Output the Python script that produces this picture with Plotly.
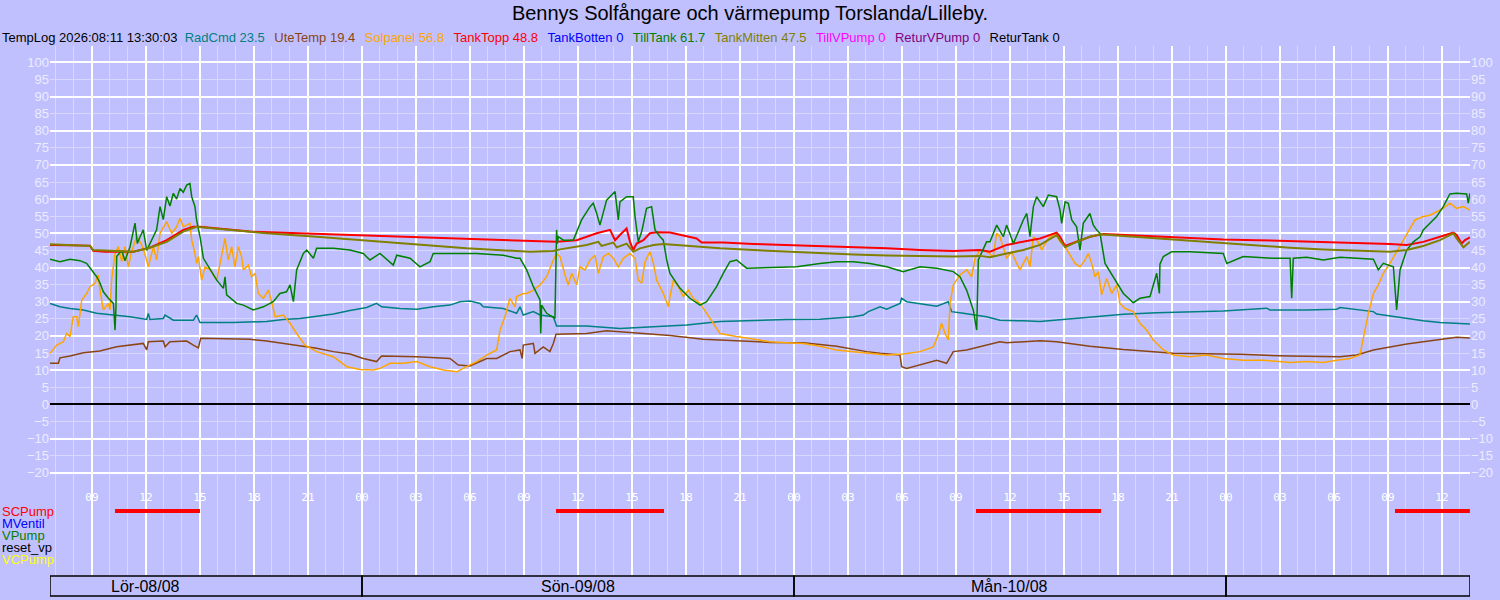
import pandas as pd
import plotly.graph_objects as go

BASE = pd.Timestamp("2026-08-08 00:00")
RANGE_H = [6.667, 85.556]  # hours after Sat 00:00

# ---- series: hours after Sat 00:00 / degrees ----
radcmd_h = [6.67, 7.22, 7.78, 8.52, 9.26, 10.28, 11.11, 12.04, 12.13, 12.22, 12.96, 13.06, 13.52, 14.63,
            14.81, 15.00, 16.85, 18.70, 19.63, 20.56, 21.48, 22.41, 23.33, 24.26, 24.81, 25.09, 26.11,
            27.04, 27.96, 28.89, 29.44, 30.00, 30.56, 30.74, 31.85, 32.59, 32.78, 32.96, 33.52, 33.89,
            34.63, 34.81, 36.48, 38.33, 40.19, 42.04, 43.89, 45.74, 47.59, 49.44, 50.37, 51.30, 51.85,
            52.13, 52.78, 53.15, 53.89, 53.98, 54.26, 55.00, 55.93, 56.57, 56.76, 57.41, 58.15, 58.70,
            59.44, 59.81, 60.74, 61.67, 62.59, 63.52, 64.44, 65.37, 66.30, 68.15, 70.00, 71.85, 74.26,
            74.44, 76.48, 78.15, 78.33, 79.26, 80.19, 80.37, 81.11, 82.04, 82.96, 83.89, 84.81, 85.55]
radcmd_v = [29.5, 28.5, 28.0, 27.6, 26.6, 26.1, 25.6, 24.8, 26.6, 24.8, 25.1, 26.1, 24.6, 24.6,
            26.1, 23.9, 23.9, 24.2, 24.8, 25.1, 25.8, 26.4, 27.4, 28.3, 29.5, 28.5, 28.0,
            27.8, 28.5, 29.0, 30.0, 30.2, 29.5, 28.5, 28.0, 26.6, 28.5, 26.1, 27.1, 26.1,
            25.6, 22.9, 22.9, 22.2, 22.7, 23.2, 24.2, 24.6, 24.8, 24.9, 25.3, 25.6, 26.1,
            27.1, 28.5, 27.8, 29.5, 31.0, 30.0, 29.5, 28.7, 30.0, 27.1, 26.6, 26.1, 25.6,
            24.6, 24.6, 24.4, 24.2, 24.6, 25.1, 25.6, 25.9, 26.3, 26.8, 27.1, 27.3, 28.1,
            27.6, 27.6, 27.8, 28.3, 27.6, 27.1, 26.4, 25.8, 25.1, 24.4, 23.9, 23.7, 23.5]

utetemp_h = [6.67, 7.13, 7.22, 7.78, 8.52, 9.44, 10.37, 11.11, 11.85, 12.04, 12.13, 12.96, 13.06, 13.33,
             14.26, 14.63, 14.91, 15.04, 16.85, 17.78, 18.70, 19.63, 20.56, 21.48, 22.41, 23.33, 24.07,
             24.81, 25.09, 27.04, 28.89, 29.35, 30.00, 30.56, 30.93, 31.48, 32.22, 32.78, 32.90, 32.96,
             33.52, 33.61, 34.07, 34.44, 34.63, 34.78, 36.48, 37.59, 39.26, 41.11, 42.96, 44.81, 46.67,
             48.52, 50.37, 52.04, 52.78, 53.89, 53.98, 54.26, 55.00, 55.93, 56.48, 56.67, 56.85, 57.59,
             58.70, 59.44, 59.81, 61.67, 62.59, 63.52, 64.44, 66.30, 68.15, 69.07, 72.78, 75.56, 78.33,
             79.26, 80.19, 81.11, 82.04, 82.96, 83.89, 84.81, 85.55]
utetemp_v = [12.0, 12.0, 13.6, 14.1, 15.1, 15.6, 16.8, 17.3, 17.8, 15.9, 18.3, 18.5, 16.8, 18.3,
             18.5, 17.3, 16.5, 19.3, 19.0, 19.0, 18.5, 17.8, 17.3, 16.4, 15.4, 14.7, 13.4,
             12.5, 14.1, 13.9, 13.4, 11.5, 11.2, 12.5, 13.4, 13.4, 15.4, 15.9, 13.4, 17.3,
             17.8, 14.9, 16.8, 15.4, 17.8, 20.5, 20.7, 21.5, 20.9, 20.1, 19.0, 18.5, 18.1,
             18.0, 17.0, 15.4, 14.9, 14.4, 11.0, 10.5, 11.5, 12.9, 12.0, 13.9, 15.4, 15.9,
             17.3, 18.3, 18.0, 18.6, 18.3, 17.6, 17.0, 16.0, 15.4, 14.9, 14.6, 14.1, 13.9,
             14.4, 15.9, 16.8, 17.6, 18.3, 19.0, 19.6, 19.4]

solpanel_h = [6.67, 7.04, 7.41, 7.59, 7.78, 7.96, 8.15, 8.24, 8.43, 8.70, 8.89, 9.17, 9.35, 9.44, 9.63,
              9.91, 10.00, 10.09, 10.28, 10.46, 10.65, 10.83, 11.02, 11.20, 11.48, 11.67, 11.85, 12.13,
              12.41, 12.59, 12.78, 13.15, 13.43, 13.70, 13.89, 14.07, 14.44, 14.54, 14.72, 14.81, 14.91,
              15.09, 15.28, 15.56, 15.93, 16.20, 16.39, 16.57, 16.76, 16.94, 17.13, 17.31, 17.41, 17.69,
              17.87, 18.06, 18.24, 18.52, 18.80, 18.98, 19.17, 19.63, 20.00, 20.37, 20.83, 21.48, 22.41,
              23.15, 23.89, 24.63, 25.00, 25.56, 26.30, 27.04, 27.78, 28.52, 29.26, 29.81, 30.37, 30.93,
              31.48, 31.67, 31.94, 32.22, 32.50, 32.59, 32.96, 33.15, 33.52, 33.89, 34.26, 34.63, 34.81,
              35.00, 35.09, 35.28, 35.46, 35.65, 35.93, 36.11, 36.39, 36.67, 36.94, 37.13, 37.41, 37.69,
              37.96, 38.24, 38.52, 38.89, 39.17, 39.35, 39.54, 39.72, 40.00, 40.19, 40.37, 40.56, 40.74,
              41.02, 41.11, 41.30, 41.57, 41.85, 42.13, 42.41, 42.78, 43.15, 43.52, 43.89, 44.81, 45.74,
              46.67, 47.59, 48.52, 49.44, 50.37, 51.30, 52.22, 53.15, 54.07, 55.00, 55.74, 56.02, 56.20,
              56.39, 56.57, 56.67, 56.85, 57.22, 57.59, 57.87, 58.06, 58.33, 58.70, 59.07, 59.26, 59.44,
              59.81, 60.09, 60.37, 60.56, 60.93, 61.11, 61.30, 61.57, 61.76, 62.13, 62.50, 62.78, 63.06,
              63.33, 63.61, 63.89, 64.17, 64.35, 64.54, 64.72, 64.91, 65.09, 65.37, 65.65, 65.93, 66.11,
              66.39, 66.85, 67.22, 67.59, 67.96, 68.52, 69.07, 70.00, 70.93, 71.85, 72.96, 74.07, 75.56,
              76.48, 77.41, 78.15, 78.89, 79.44, 79.63, 79.91, 80.19, 80.46, 80.74, 81.11, 81.48, 81.85,
              82.22, 82.50, 82.96, 83.33, 83.70, 84.07, 84.44, 84.81, 85.19, 85.55]
solpanel_v = [14.9, 17.3, 18.3, 20.7, 19.8, 25.6, 25.6, 22.7, 30.5, 32.4, 34.4, 35.4, 37.8, 33.4, 27.6,
              29.5, 27.6, 36.3, 44.1, 46.1, 41.7, 46.1, 40.2, 44.6, 49.0, 47.5, 45.6, 40.2,
              46.1, 42.2, 50.0, 53.4, 50.0, 51.9, 54.4, 51.9, 52.9, 48.0, 44.1, 41.2, 43.2,
              36.3, 40.2, 39.3, 36.3, 43.2, 48.5, 42.2, 46.1, 40.2, 46.1, 43.2, 39.3, 40.7,
              37.3, 38.3, 32.4, 31.0, 33.4, 30.0, 25.6, 26.1, 23.7, 20.7, 17.3, 15.4, 13.9,
              11.0, 10.2, 10.0, 10.5, 12.0, 12.0, 12.5, 11.0, 10.0, 9.5, 11.0, 12.5, 14.4,
              15.9, 21.7, 25.6, 31.0, 28.5, 31.5, 32.4, 32.4, 33.4, 34.9, 37.3, 42.2, 44.1,
              43.2, 41.2, 37.8, 34.9, 38.3, 34.9, 40.2, 39.3, 42.2, 43.6, 38.3, 43.2, 44.1,
              42.7, 40.2, 42.7, 44.1, 42.7, 36.3, 35.4, 41.7, 44.6, 41.2, 36.3, 34.4, 32.4,
              28.5, 31.5, 36.3, 34.4, 31.5, 33.4, 31.0, 29.5, 26.6, 23.7, 20.7, 19.8, 19.0,
              18.3, 18.0, 17.8, 17.0, 15.9, 15.4, 14.9, 14.4, 14.7, 15.4, 16.8, 20.3, 23.7,
              20.7, 18.8, 29.5, 34.9, 37.8, 39.3, 37.3, 42.7, 45.1, 44.6, 43.2, 50.0, 49.0,
              42.7, 44.6, 41.2, 39.3, 43.2, 40.2, 49.0, 47.5, 45.1, 48.5, 50.0, 47.5, 46.1,
              43.6, 41.2, 40.2, 42.2, 44.1, 41.2, 37.3, 38.8, 32.0, 36.8, 32.4, 34.9, 29.5,
              28.0, 27.1, 23.7, 21.7, 18.8, 15.9, 14.4, 13.9, 14.4, 13.4, 12.9, 12.9, 12.2,
              12.5, 12.2, 12.9, 13.4, 14.4, 19.8, 26.6, 32.4, 34.9, 38.3, 41.2, 44.6, 48.0,
              51.0, 53.9, 54.9, 55.3, 56.3, 57.3, 58.8, 57.3, 57.8, 56.8]

tanktopp_h = [6.67, 8.89, 9.07, 9.72, 11.30, 12.22, 13.15, 14.07, 14.63, 15.00, 17.78, 20.56, 23.33,
              26.11, 28.89, 33.33, 34.81, 35.93, 36.48, 37.04, 37.78, 38.06, 38.33, 38.70, 38.89, 39.07,
              39.26, 39.63, 40.00, 40.37, 41.11, 42.04, 42.59, 42.87, 44.07, 45.74, 47.59, 49.44, 51.30,
              53.15, 55.00, 56.85, 58.33, 58.89, 59.81, 60.74, 61.67, 62.59, 62.78, 63.06, 63.70, 64.44,
              65.19, 66.30, 68.15, 70.00, 71.85, 73.70, 75.56, 77.41, 79.26, 81.11, 82.04, 82.96, 83.89,
              84.63, 84.81, 85.09, 85.28, 85.55]
tanktopp_v = [46.6, 46.4, 44.9, 44.6, 44.6, 45.8, 48.0, 51.0, 51.9, 51.9, 50.5, 50.0, 49.5,
              49.0, 48.5, 47.7, 47.5, 48.0, 49.0, 50.0, 51.0, 48.0, 49.5, 51.4, 47.5, 45.1,
              47.0, 48.0, 50.0, 50.3, 50.2, 49.0, 48.5, 47.3, 47.3, 46.9, 46.6, 46.3, 45.9,
              45.6, 45.1, 44.8, 45.1, 44.6, 46.6, 47.5, 48.5, 50.2, 49.0, 46.3, 47.5, 49.0,
              49.8, 49.5, 49.0, 48.5, 48.2, 48.0, 47.7, 47.5, 47.3, 46.9, 46.6, 47.5, 49.0,
              50.2, 49.5, 47.0, 48.0, 48.8]

tankbotten_h = []
tankbotten_v = []

tilltank_h = [6.67, 7.22, 7.78, 8.33, 8.70, 8.98, 9.26, 9.45, 9.63, 9.91, 10.19, 10.28, 10.33, 10.37,
              10.65, 10.83, 11.11, 11.39, 11.52, 11.67, 11.85, 12.04, 12.22, 12.59, 12.78, 12.96, 13.15,
              13.33, 13.52, 13.70, 13.89, 14.07, 14.26, 14.44, 14.54, 14.72, 14.81, 15.00, 15.19, 15.56,
              15.93, 16.30, 16.39, 16.48, 17.04, 17.41, 17.96, 18.52, 19.07, 19.44, 19.81, 20.00, 20.19,
              20.37, 20.74, 20.93, 21.30, 21.48, 22.41, 23.33, 24.07, 24.44, 25.00, 25.74, 25.93, 26.67,
              27.22, 27.78, 27.96, 28.89, 30.37, 31.85, 32.59, 32.78, 33.15, 33.52, 33.89, 33.93, 33.98,
              34.26, 34.72, 34.81, 34.85, 34.91, 35.19, 35.74, 35.93, 36.20, 36.67, 36.85, 37.04, 37.22,
              37.59, 38.06, 38.24, 38.33, 38.70, 39.07, 39.17, 39.35, 39.54, 39.81, 40.09, 40.28, 40.56,
              40.74, 40.93, 41.11, 41.67, 42.22, 42.78, 43.15, 43.70, 44.07, 44.44, 44.81, 45.37, 46.67,
              48.15, 49.44, 50.37, 51.30, 52.22, 53.15, 54.07, 55.00, 55.93, 56.85, 57.22, 57.59, 57.96,
              58.15, 58.24, 58.70, 58.89, 59.26, 59.63, 59.81, 60.19, 60.74, 60.93, 61.11, 61.30, 61.48,
              61.85, 62.13, 62.59, 62.78, 62.87, 63.06, 63.24, 63.43, 63.70, 63.89, 64.07, 64.44, 64.63,
              64.81, 65.00, 65.28, 65.74, 66.30, 66.85, 67.22, 67.78, 68.15, 68.30, 68.33, 68.52, 68.98,
              70.00, 71.85, 72.04, 72.96, 74.63, 75.56, 75.65, 75.74, 76.48, 77.41, 78.33, 79.07, 80.19,
              80.46, 80.74, 81.30, 81.48, 81.67, 82.04, 82.41, 82.78, 82.96, 83.33, 83.70, 84.07, 84.44,
              84.81, 85.37, 85.46, 85.55]
tilltank_v = [42.4, 41.7, 42.4, 42.0, 41.2, 39.3, 37.3, 35.4, 32.9, 31.0, 29.5, 21.7, 28.0, 43.2,
              45.0, 42.0, 46.0, 53.0, 47.0, 49.0, 51.0, 45.0, 47.0, 51.0, 57.8, 54.0, 60.7,
              58.0, 61.7, 60.0, 63.1, 62.0, 64.1, 64.6, 60.7, 57.8, 53.9, 49.0, 42.7, 39.3,
              36.3, 33.9, 37.3, 32.0, 29.5, 29.0, 27.6, 28.5, 30.0, 32.4, 32.9, 34.9, 30.0,
              39.3, 44.1, 45.1, 42.7, 45.6, 45.6, 45.1, 44.1, 42.2, 44.1, 40.7, 43.6, 42.7,
              40.2, 41.7, 44.1, 44.1, 44.1, 43.6, 42.7, 42.7, 39.3, 34.4, 30.5, 20.7, 29.0,
              26.6, 25.1, 51.0, 47.0, 49.0, 48.0, 48.0, 50.5, 53.9, 57.8, 58.8, 55.8, 52.4,
              59.7, 62.2, 53.9, 59.2, 60.7, 60.7, 54.9, 47.5, 50.5, 57.3, 57.8, 51.0, 49.0,
              48.0, 42.2, 38.3, 33.9, 31.0, 29.0, 30.0, 34.4, 38.3, 41.7, 42.2, 39.8, 40.0,
              40.2, 41.2, 41.7, 41.7, 41.2, 40.2, 38.8, 40.2, 39.8, 38.8, 37.3, 33.4, 27.6,
              21.7, 42.2, 47.5, 47.5, 52.4, 49.0, 52.4, 47.0, 53.9, 55.8, 49.0, 57.8, 60.7,
              57.8, 61.2, 60.7, 56.8, 52.9, 59.2, 58.8, 53.9, 51.9, 45.1, 52.9, 55.8, 52.4,
              51.0, 50.0, 41.2, 37.3, 32.4, 29.7, 31.0, 31.5, 38.3, 32.4, 41.0, 43.2, 44.6,
              44.6, 44.1, 41.2, 43.2, 42.7, 42.7, 31.0, 42.7, 43.0, 42.2, 43.0, 42.7, 42.4,
              39.3, 41.2, 40.2, 27.6, 39.3, 45.1, 47.5, 49.0, 51.0, 52.9, 54.9, 57.8, 61.5,
              61.7, 61.5, 58.8, 61.7]

tankmitten_h = [6.67, 8.89, 9.07, 11.30, 12.22, 13.15, 14.07, 14.81, 15.19, 16.85, 18.70, 21.48, 24.26,
                27.04, 29.81, 33.33, 34.63, 35.00, 36.48, 37.13, 37.31, 37.96, 38.15, 38.70, 39.07, 39.44,
                40.19, 40.74, 42.04, 43.89, 45.74, 47.59, 49.44, 51.30, 53.15, 55.00, 56.85, 58.33, 58.89,
                59.81, 60.74, 61.67, 62.59, 63.06, 63.70, 64.44, 65.00, 66.30, 68.15, 70.00, 71.85, 73.70,
                75.56, 77.41, 79.26, 81.11, 82.04, 82.96, 83.89, 84.63, 84.81, 85.19, 85.55]
tankmitten_v = [46.8, 46.3, 45.1, 44.6, 45.8, 47.5, 50.5, 51.9, 51.7, 50.8, 50.0, 49.0, 47.8,
                46.6, 45.6, 44.6, 44.8, 45.3, 46.6, 47.5, 46.3, 47.3, 45.9, 47.0, 44.6, 45.6,
                46.6, 46.9, 46.3, 45.6, 45.1, 44.6, 44.3, 43.8, 43.5, 43.4, 43.2, 43.4, 43.0,
                44.1, 45.1, 46.6, 49.5, 45.9, 47.5, 49.0, 49.7, 49.2, 48.5, 47.8, 47.0, 46.3,
                45.8, 45.3, 44.9, 44.6, 45.1, 46.3, 48.0, 50.0, 48.5, 45.9, 47.5]

# header readout
names = ["RadCmd", "UteTemp", "Solpanel", "TankTopp", "TankBotten", "TillTank", "TankMitten",
         "TillVPump", "ReturVPump", "ReturTank"]
current = ["23.5", "19.4", "56.8", "48.8", "0", "61.7", "47.5", "0", "0", "0"]
colors = ["#008080", "#8B4513", "#FFA500", "#FF0000", "#0000FF", "#008000", "#808000",
          "#FF00FF", "#800080", "#000000"]
stamp = "TempLog 2026:08:11 13:30:03"

# pump status rows
pumps = ["SCPump", "MVentil", "VPump", "reset_vp", "VCPump"]
pump_colors = ["#FF0000", "#0000FF", "#008000", "#000000", "#FFFF00"]
scpump_on = [(10.28, 15.00), (34.78, 40.78), (58.11, 65.06), (81.39, 85.55)]

day_starts = [0, 24, 48, 72, 96]
day_labels = ["Lör-08/08", "Sön-09/08", "Mån-10/08"]

y_ticks = list(range(-20, 101, 5))

BG = "#C0C0FF"
GRID_MINOR = "#D8D8FF"
TICK_COL = "#ECECFF"


def t(hours):
    return [BASE + pd.Timedelta(hours=h) for h in hours]


fig = go.Figure()

series = [
    (radcmd_h, radcmd_v, 1.5),
    (utetemp_h, utetemp_v, 1.5),
    (solpanel_h, solpanel_v, 1.5),
    (tanktopp_h, tanktopp_v, 2),
    (tankbotten_h, tankbotten_v, 1.5),
    (tilltank_h, tilltank_v, 1.5),
    (tankmitten_h, tankmitten_v, 2),
]
for (hh, vv, w), name, col in zip(series, names, colors):
    fig.add_trace(go.Scatter(x=t(hh), y=vv, mode="lines", name=name,
                             line=dict(color=col, width=w), showlegend=False, hoverinfo="skip"))

# SCPump on-periods in the status strip
px, py = [], []
for a, b in scpump_on:
    px += t([a, b]) + [None]
    py += [0, 0, None]
fig.add_trace(go.Scatter(x=px, y=py, mode="lines", xaxis="x2", yaxis="y2",
                         line=dict(color=pump_colors[0], width=4), showlegend=False, hoverinfo="skip"))

x_range = t(RANGE_H)
y_range = [-25.06, 104.77]
xgrid = dict(range=x_range, type="date", tick0=BASE, dtick=3 * 3600000,
             showgrid=True, gridcolor="white", gridwidth=1.5,
             minor=dict(dtick=3600000, showgrid=True, gridcolor=GRID_MINOR, gridwidth=1),
             zeroline=False, showline=False, ticks="")
ylab = dict(overlaying="y", anchor="x", range=y_range, tickvals=y_ticks,
            showgrid=False, zeroline=False, ticks="",
            tickfont=dict(size=13, color=TICK_COL))

fig.update_layout(
    width=1500, height=600,
    margin=dict(l=50, r=30, t=46, b=4),
    paper_bgcolor=BG, plot_bgcolor=BG,
    font=dict(family="Liberation Sans, Arial, sans-serif", size=13, color="black"),
    title=dict(text="Bennys Solfångare och värmepump Torslanda/Lilleby.", x=0.5, xref="container",
               y=1 - 13 / 600, yanchor="middle", font=dict(size=20, color="black")),
    xaxis=dict(xgrid, anchor="y", showticklabels=False),
    yaxis=dict(domain=[106 / 550, 1], range=y_range, dtick=10, tick0=0,
               showgrid=True, gridcolor="white", gridwidth=1.5,
               minor=dict(dtick=5, showgrid=True, gridcolor=GRID_MINOR, gridwidth=1),
               zeroline=True, zerolinecolor="black", zerolinewidth=1.5,
               showticklabels=False, ticks=""),
    yaxis3=dict(ylab, side="left"),
    yaxis4=dict(ylab, side="right"),
    xaxis2=dict(xgrid, anchor="y2", matches="x", side="top", ticklabelposition="inside",
                tickformat="%H", tickfont=dict(family="DejaVu Sans Mono", size=11, color="white")),
    yaxis2=dict(domain=[21 / 550, 106 / 550], range=[85 / 12 - 1.75, -1.75],
                showgrid=False, zeroline=False, showticklabels=False, ticks=""),
)

# dummy traces so the overlay axes draw their labels
for ax in ["y3", "y4"]:
    fig.add_trace(go.Scatter(x=[None], y=[None], yaxis=ax, showlegend=False, hoverinfo="skip"))

# header readout line
items = [f"<span style='color:{c}'>{n} {v}</span>" for n, v, c in zip(names, current, colors)]
header = stamp + "\u00a0\u00a0" + "\u00a0\u00a0\u200a\u200a".join(items)
fig.add_annotation(text=header, xref="paper", yref="paper",
                   x=-50 / 1420, y=1 + 8 / 550, xanchor="left", yanchor="middle",
                   showarrow=False, font=dict(size=13, color="black"))

# pump row labels
for i, (p, c) in enumerate(zip(pumps, pump_colors)):
    fig.add_annotation(text=p, xref="paper", yref="y2", x=-50 / 1420, y=i,
                       xanchor="left", yanchor="middle", showarrow=False,
                       font=dict(size=13, color=c))

# day boxes
for a, b in zip(day_starts[:-1], day_starts[1:]):
    a = max(a, RANGE_H[0])
    b = min(b, RANGE_H[1])
    if a >= b:
        continue
    fig.add_shape(type="rect", xref="x", yref="paper", x0=t([a])[0], x1=t([b])[0],
                  y0=0, y1=20 / 550, line=dict(color="black", width=1.5))
for i, lab in enumerate(day_labels):
    fig.add_annotation(text=lab, xref="x", yref="paper", x=t([day_starts[i] + 12])[0],
                       y=10 / 550, yanchor="middle", showarrow=False,
                       font=dict(size=16, color="black"))

# page has a default 8px body margin; drop it so the figure sits at the window corner
fig.write_html("out.html", config={"displayModeBar": False},
               post_script="document.body.style.margin='0';document.body.style.background='#C0C0FF';")
